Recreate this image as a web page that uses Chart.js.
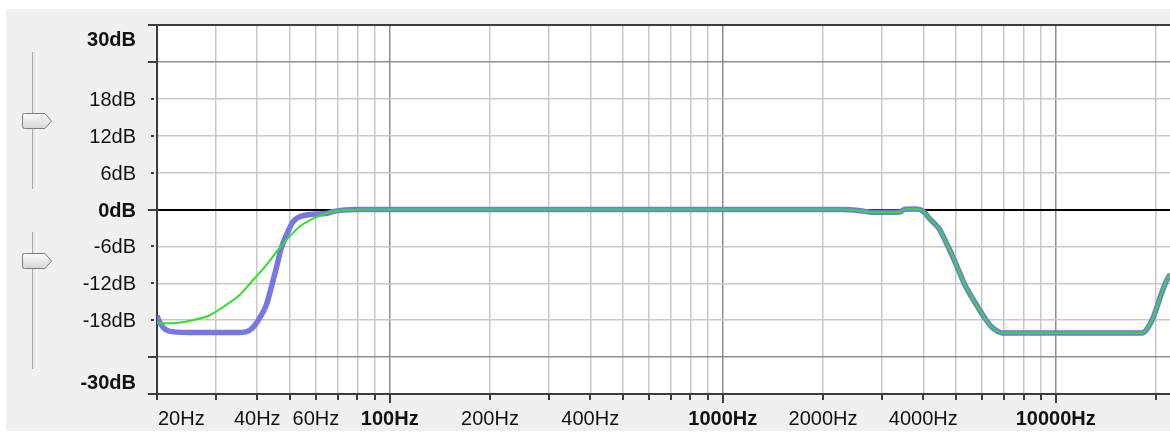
<!DOCTYPE html>
<html>
<head>
<meta charset="utf-8">
<script src="https://cdn.jsdelivr.net/npm/chart.js@4"></script>
<style>
  body { margin: 0; background: #fff; }
  #panel { position: absolute; left: 6px; top: 9px; width: 1164px; height: 422px; background: #f0f0f0; }
  #eq { position: absolute; left: 0; top: 0; }
  .track { position: absolute; left: 32px; width: 3px; background: #e9e9e9; border-left: 1px solid #a9a9a9; border-right: 1px solid #fff; }
  .thumb { position: absolute; left: 22px; }
</style>
</head>
<body>
<div id="panel"></div>
<div class="track" style="top:52px;height:137px"></div>
<div class="track" style="top:232px;height:137px"></div>
<svg class="thumb" style="top:113px" width="31" height="17">
  <defs><linearGradient id="tg" x1="0" y1="0" x2="0" y2="1"><stop offset="0" stop-color="#fbfbfb"/><stop offset="1" stop-color="#d6d6d6"/></linearGradient></defs>
  <path d="M2.5,0.5 H23 L29.5,8 L23,15.5 H2.5 Q0.5,15.5 0.5,13.5 V2.5 Q0.5,0.5 2.5,0.5 Z" fill="url(#tg)" stroke="#7d7d7d"/>
</svg>
<svg class="thumb" style="top:253px" width="31" height="17">
  <path d="M2.5,0.5 H23 L29.5,8 L23,15.5 H2.5 Q0.5,15.5 0.5,13.5 V2.5 Q0.5,0.5 2.5,0.5 Z" fill="url(#tg)" stroke="#7d7d7d"/>
</svg>
<canvas id="eq" width="1170" height="433"></canvas>
<script>
// Frequenzraster und Beschriftungen
const xGrid = [20, 30, 40, 50, 60, 70, 80, 90, 100, 200, 300, 400, 500, 600, 700, 800, 900,
  1000, 2000, 3000, 4000, 5000, 6000, 7000, 8000, 9000, 10000, 20000];
const xDecades = [100, 1000, 10000];
const xLabelValues = [20, 40, 60, 100, 200, 400, 1000, 2000, 4000, 10000];
const yTicks = [30, 24, 18, 12, 6, 0, -6, -12, -18, -24, -30];
const yMajor = [30, 24, 0, -24, -30];
const yLabelValues = [30, 18, 12, 6, 0, -6, -12, -18, -30];
const yBold = [30, 0, -30];

// Kurven (Hz / dB)
const blueLowFreq = [20, 20.5, 21.2, 22.5, 25, 30, 35, 37, 38.8, 40.6, 42.6, 44, 45.6, 47.2, 48.9, 51.2, 53.6, 57.5, 64.5, 67.5, 72, 80, 100];
const blueLowGain = [-17.3, -18.6, -19.5, -19.9, -20, -20, -20, -19.9, -19.2, -17.7, -15.5, -12.8, -9.6, -6.3, -4.2, -2.0, -1.2, -0.8, -0.65, -0.35, -0.1, 0, 0];
const greenLowFreq = [20, 22.3, 25.6, 28.8, 32.3, 35.4, 38.8, 42.6, 46.6, 50, 53.6, 58.8, 64.4, 74, 86, 100];
const greenLowGain = [-18.5, -18.5, -18.0, -17.2, -15.5, -13.9, -11.5, -9.05, -6.3, -4.4, -2.8, -1.5, -0.65, -0.1, 0, 0];
const highFreq = [1000, 2300, 2550, 2750, 3000, 3400, 3530, 3800, 3950, 4050, 4150, 4250, 4460, 4670, 4880, 5100, 5340, 5600, 5870, 6150, 6420, 6700, 6900,
  10000, 18150, 18700, 19460, 20150, 20850, 21500, 22100];
const highGain = [0, 0, -0.15, -0.4, -0.45, -0.4, 0.05, 0.1, -0.1, -0.6, -1.3, -1.9, -3.1, -5.2, -7.4, -9.8, -12.3, -14.3, -16.1, -17.8, -19.1, -19.8, -20.1,
  -20.1, -20.1, -19.6, -18.0, -15.8, -13.4, -11.6, -10.5];

function toPoints(f, g) {
  return f.map((v, i) => ({ x: v, y: g[i] }));
}

const plotBackground = {
  id: 'plotBackground',
  beforeDraw(chart) {
    const { ctx, chartArea: a } = chart;
    ctx.save();
    ctx.fillStyle = '#fff';
    ctx.fillRect(a.left, a.top, a.right - a.left, a.bottom - a.top);
    ctx.restore();
  }
};

// Lineal-Beschriftung wie im Original (Endlabels nach innen gerueckt)
const rulerLabels = {
  id: 'rulerLabels',
  afterDraw(chart) {
    const { ctx, chartArea: a, scales: { x, y } } = chart;
    ctx.save();
    ctx.fillStyle = '#3c3c3c';
    yTicks.forEach(v => {
      const py = Math.round(y.getPixelForValue(v));
      if (yMajor.includes(v)) ctx.fillRect(a.left - 9, py - 1, 9, 2);
      else ctx.fillRect(a.left - 6, py - 1, 3, 2);
    });
    xGrid.forEach(v => {
      const px = Math.round(x.getPixelForValue(v));
      const len = xDecades.includes(v) ? 9 : 6;
      ctx.fillRect(px - 1, a.bottom, 2, len);
    });

    ctx.fillStyle = '#111';
    ctx.textAlign = 'right';
    ctx.textBaseline = 'alphabetic';
    yLabelValues.forEach(v => {
      let py = y.getPixelForValue(v);
      py = Math.min(Math.max(py, a.top + 14), a.bottom - 12);
      ctx.font = (yBold.includes(v) ? 'bold ' : '') + '20px "Liberation Sans", Arial, sans-serif';
      ctx.fillText(v + 'dB', 136, py + 7);
    });
    ctx.textAlign = 'center';
    xLabelValues.forEach(v => {
      ctx.font = (xDecades.includes(v) ? 'bold ' : '') + '20px "Liberation Sans", Arial, sans-serif';
      const txt = v + 'Hz';
      const w = ctx.measureText(txt).width;
      const px = Math.max(x.getPixelForValue(v), a.left + 1 + w / 2);
      ctx.fillText(txt, px, 425);
    });
    ctx.restore();
  }
};

const ctx = document.getElementById('eq').getContext('2d');
new Chart(ctx, {
  type: 'line',
  data: {
    datasets: [
      {
        label: 'Kurve',
        data: toPoints(greenLowFreq.concat(highFreq), greenLowGain.concat(highGain)),
        borderColor: '#2fe02f',
        borderWidth: 2,
        pointRadius: 0,
        cubicInterpolationMode: 'monotone',
        order: 0
      },
      {
        label: 'Filter',
        data: toPoints(blueLowFreq.concat(highFreq), blueLowGain.concat(highGain)),
        borderColor: '#7777e4',
        borderWidth: 5.5,
        pointRadius: 0,
        cubicInterpolationMode: 'monotone',
        order: 1
      }
    ]
  },
  options: {
    responsive: false,
    animation: false,
    devicePixelRatio: 1,
    layout: { padding: { left: 157, top: 25, right: 0, bottom: 39 } },
    plugins: {
      legend: { display: false },
      tooltip: { enabled: false }
    },
    scales: {
      x: {
        type: 'logarithmic',
        min: 20,
        max: 22030,
        afterBuildTicks: s => { s.ticks = xGrid.map(v => ({ value: v })); },
        afterFit: s => { s.height = 0; },
        ticks: { display: false },
        grid: {
          drawTicks: false,
          lineWidth: 1.5,
          color: c => xDecades.includes(c.tick.value) ? '#8e8e8e' : '#c8c8c8'
        },
        border: { color: '#3c3c3c', width: 2 }
      },
      y: {
        min: -30,
        max: 30,
        afterBuildTicks: s => { s.ticks = yTicks.map(v => ({ value: v })); },
        afterFit: s => { s.width = 0; },
        ticks: { display: false },
        grid: {
          drawTicks: false,
          lineWidth: c => (c.tick.value === 0 || c.tick.value === 30) ? 2 : 1.5,
          color: c => {
            const v = c.tick.value;
            if (v === 0) return '#000';
            if (v === 30) return '#3c3c3c';
            if (v === 24 || v === -24) return '#8e8e8e';
            return '#c8c8c8';
          }
        },
        border: { color: '#3c3c3c', width: 2 }
      }
    }
  },
  plugins: [plotBackground, rulerLabels]
});
</script>
</body>
</html>
